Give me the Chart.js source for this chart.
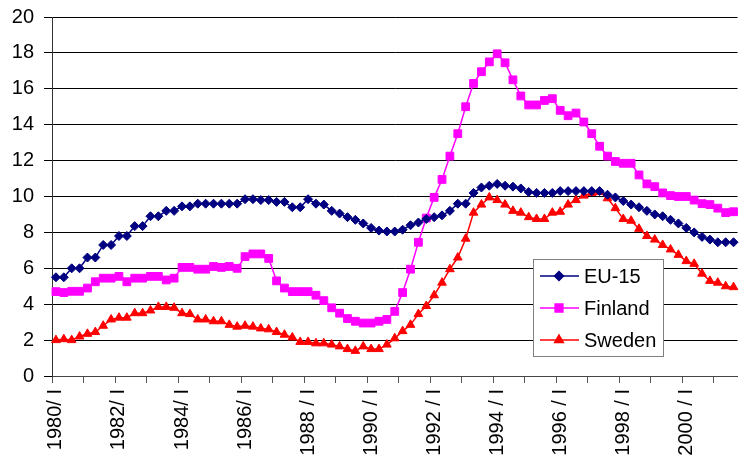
<!DOCTYPE html>
<html>
<head>
<meta charset="utf-8">
<script src="https://cdn.jsdelivr.net/npm/chart.js@4/dist/chart.umd.min.js"></script>
<style>
  html, body { margin: 0; background: #fff; overflow: hidden; }
</style>
</head>
<body>
<!-- a little wider than the window: the plot runs to the right edge, as in the source -->
<canvas id="unempChart" width="744" height="460"></canvas>
<script>
// quarters 1980/I .. 2001/III
const years = [1980, 1981, 1982, 1983, 1984, 1985, 1986, 1987, 1988, 1989, 1990,
               1991, 1992, 1993, 1994, 1995, 1996, 1997, 1998, 1999, 2000, 2001];
const quarters = ['I', 'II', 'III', 'IV'];
const tickLabels = ['1980/ I', '1982/ I', '1984/ I', '1986/ I', '1988 / I', '1990 / I',
                    '1992 / I', '1994 / I', '1996 / I', '1998 / I', '2000 / I'];

const eu15 = [
    5.5, 5.5, 6.0, 6.0, 6.6, 6.6, 7.3, 7.3, 7.8, 7.8,
    8.35, 8.35, 8.9, 8.9, 9.2, 9.2, 9.45, 9.45, 9.6, 9.6,
    9.6, 9.6, 9.6, 9.6, 9.85, 9.85, 9.8, 9.8, 9.7, 9.7,
    9.4, 9.4, 9.85, 9.6, 9.55, 9.2, 9.05, 8.85, 8.7, 8.5,
    8.25, 8.1, 8.05, 8.05, 8.15, 8.4, 8.55, 8.75, 8.85, 8.95,
    9.2, 9.6, 9.6, 10.2, 10.5, 10.6, 10.7, 10.6, 10.55, 10.45,
    10.25, 10.2, 10.2, 10.2, 10.3, 10.3, 10.3, 10.3, 10.3, 10.3,
    10.1, 9.95, 9.75, 9.55, 9.4, 9.2, 9.0, 8.9, 8.7, 8.5,
    8.25, 8.0, 7.75, 7.6, 7.45, 7.45, 7.45
];
const finland = [
    4.7, 4.65, 4.72, 4.72, 4.9, 5.25, 5.45, 5.45, 5.55, 5.25,
    5.45, 5.45, 5.55, 5.55, 5.35, 5.45, 6.05, 6.05, 5.95, 5.95,
    6.1, 6.05, 6.1, 6.0, 6.65, 6.8, 6.8, 6.55, 5.3, 4.9,
    4.7, 4.7, 4.7, 4.5, 4.2, 3.8, 3.5, 3.2, 3.05, 2.95,
    2.95, 3.05, 3.15, 3.6, 4.65, 5.95, 7.45, 8.8, 9.95, 10.95,
    12.25, 13.5, 15.0, 16.3, 16.95, 17.5, 17.95, 17.45, 16.5, 15.6,
    15.1, 15.1, 15.35, 15.45, 14.8, 14.5, 14.65, 14.15, 13.5, 12.8,
    12.25, 11.95, 11.85, 11.85, 11.2, 10.7, 10.55, 10.2, 10.05, 10.0,
    10.0, 9.8, 9.6, 9.55, 9.35, 9.1, 9.15
];
const sweden = [
    2.0, 2.05, 2.0, 2.2, 2.35, 2.45, 2.8, 3.15, 3.25, 3.25,
    3.5, 3.5, 3.65, 3.85, 3.85, 3.8, 3.5, 3.45, 3.15, 3.15,
    3.05, 3.05, 2.85, 2.75, 2.8, 2.75, 2.65, 2.6, 2.45, 2.3,
    2.15, 1.9, 1.9, 1.82, 1.82, 1.75, 1.65, 1.5, 1.4, 1.65,
    1.5, 1.5, 1.75, 2.1, 2.5, 2.85, 3.45, 3.9, 4.5, 5.2,
    5.95, 6.6, 7.65, 9.1, 9.55, 9.95, 9.8, 9.55, 9.2, 9.1,
    8.85, 8.75, 8.75, 9.1, 9.15, 9.55, 9.8, 10.05, 10.2, 10.25,
    9.9, 9.35, 8.75, 8.65, 8.2, 7.8, 7.6, 7.3, 7.05, 6.75,
    6.4, 6.25, 5.7, 5.3, 5.2, 5.0, 4.95
];

const labels = [];
years.forEach(y => quarters.forEach(q => labels.push(y + '/' + q)));
labels.length = eu15.length;

const font = { family: "'Liberation Sans', Arial, sans-serif", size: 20 };

// legend drawn inside the plot, like the original
const boxLegend = {
    id: 'boxLegend',
    afterDraw(chart) {
        const ctx = chart.ctx;
        ctx.save();
        ctx.fillStyle = '#fff';
        ctx.fillRect(533, 259, 130, 97);
        ctx.strokeStyle = '#808080';
        ctx.lineWidth = 1;
        ctx.strokeRect(533.5, 259.5, 130, 97);
        const rows = [276, 308, 340];
        chart.data.datasets.forEach((ds, i) => {
            const y = rows[i];
            ctx.strokeStyle = ds.borderColor;
            ctx.lineWidth = 1.5;
            ctx.beginPath();
            ctx.moveTo(540, y);
            ctx.lineTo(579, y);
            ctx.stroke();
            ctx.fillStyle = ds.borderColor;
            ctx.strokeStyle = ds.borderColor;
            Chart.helpers.drawPoint(ctx, {
                pointStyle: ds.pointStyle, radius: ds.pointRadius,
                borderWidth: 1, rotation: 0
            }, 559, y);
            ctx.fillStyle = '#000';
            ctx.font = "20px 'Liberation Sans', Arial, sans-serif";
            ctx.textBaseline = 'middle';
            ctx.fillText(ds.label, 584, y + 1);
        });
        ctx.restore();
    }
};

const ctx = document.getElementById('unempChart').getContext('2d');
const unempChart = new Chart(ctx, {
    type: 'line',
    data: {
        labels: labels,
        datasets: [{
            label: 'EU-15',
            data: eu15,
            borderColor: '#000080',
            backgroundColor: '#000080',
            borderWidth: 1.5,
            pointStyle: 'rectRot',
            pointRadius: 4.5,
            pointBorderWidth: 1,
        }, {
            label: 'Finland',
            data: finland,
            borderColor: '#ff00ff',
            backgroundColor: '#ff00ff',
            borderWidth: 1.5,
            pointStyle: 'rect',
            pointRadius: 5.5,
            pointBorderWidth: 1,
        }, {
            label: 'Sweden',
            data: sweden,
            borderColor: '#ff0000',
            backgroundColor: '#ff0000',
            borderWidth: 1.5,
            pointStyle: 'triangle',
            pointRadius: 5,
            pointBorderWidth: 1,
        }],
    },
    options: {
        responsive: false,
        animation: false,
        layout: { padding: { top: 17, right: 0, left: 0, bottom: 0 } },
        plugins: {
            legend: { display: false },
            tooltip: { enabled: false },
        },
        scales: {
            x: {
                offset: true,
                grid: {
                    offset: true,
                    drawOnChartArea: false,
                    tickLength: 7,
                    tickColor: c => (c.index % 4 === 0 ? '#555' : 'rgba(0,0,0,0)'),
                },
                border: { display: true, color: '#444', width: 1 },
                ticks: {
                    autoSkip: false,
                    minRotation: 90,
                    maxRotation: 90,
                    padding: 6,
                    color: '#000',
                    font: font,
                    callback: (v, i) => (i % 8 === 0 ? tickLabels[i / 8] : ''),
                },
                afterFit: s => {
                    s.height = 84;
                    s.paddingLeft = 0;
                    s.paddingRight = 0;
                },
            },
            y: {
                min: 0,
                max: 20,
                grid: { color: '#000', lineWidth: 1, tickLength: 8 },
                border: { display: true, color: '#333', width: 1 },
                ticks: { stepSize: 2, padding: 10, color: '#000', font: font },
                afterFit: s => {
                    s.width = 52;
                    s.paddingTop = 0;
                    s.paddingBottom = 0;
                },
            },
        },
    },
    plugins: [boxLegend],
});
</script>
</body>
</html>
